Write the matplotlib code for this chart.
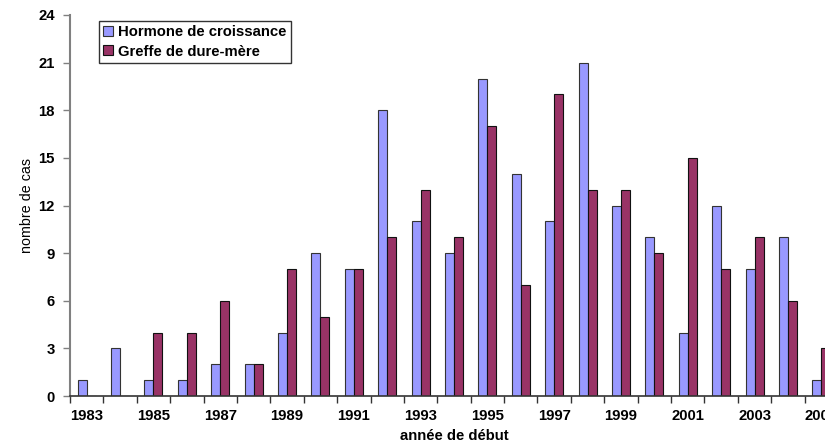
import matplotlib.pyplot as plt
import numpy as np

plt.rcParams['font.family'] = ['Liberation Sans', 'DejaVu Sans']

years = list(range(1983, 2006))
hormone = [1, 3, 1, 1, 2, 2, 4, 9, 8, 18, 11, 9, 20, 14, 11, 21, 12, 10, 4, 12, 8, 10, 1]
greffe = [0, 0, 4, 4, 6, 2, 8, 5, 8, 10, 13, 10, 17, 7, 19, 13, 13, 9, 15, 8, 10, 6, 3]

fig = plt.figure(figsize=(8.25, 4.42), dpi=100)
# axes runs past the right edge, like the original (cropped) chart
ax = fig.add_axes([70 / 825, 46 / 442, 768 / 825, 381 / 442])

x = np.arange(len(years))
w = 0.27
ax.bar(x - w / 2, hormone, w, color='#9999FF', edgecolor='#333333', linewidth=0.8,
       label='Hormone de croissance')
ax.bar(x + w / 2, greffe, w, color='#993366', edgecolor='#111111', linewidth=0.8,
       label='Greffe de dure-mère')

ax.set_xlim(-0.5, len(years) - 0.5)
ax.set_ylim(0, 24)
ax.set_yticks(range(0, 25, 3))

# labels on odd years, tick marks between categories
ax.set_xticks(x[::2])
ax.set_xticklabels([str(y) for y in years[::2]])
ax.set_xticks(np.arange(-0.5, len(years) + 0.5, 1), minor=True)
ax.tick_params(axis='x', which='major', length=0, pad=9)
ax.tick_params(axis='x', which='minor', length=5, width=1, color='#333333')
ax.tick_params(axis='y', length=5, width=1, color='#808080', pad=6)
for lab in ax.get_xticklabels() + ax.get_yticklabels():
    lab.set_fontsize(10.7)
    lab.set_fontweight('bold')

for s in ['top', 'right']:
    ax.spines[s].set_visible(False)
ax.spines['left'].set_color('#808080')
ax.spines['left'].set_linewidth(1.5)
ax.spines['bottom'].set_color('#333333')
ax.spines['bottom'].set_linewidth(1.2)

ax.set_ylabel('nombre de cas', fontsize=10.3, labelpad=3)
ax.set_xlabel('année de début', fontsize=10.7, fontweight='bold', labelpad=5)

leg = ax.legend(loc='upper left', bbox_to_anchor=(29 / 768, 375 / 381), frameon=True,
                fancybox=False, edgecolor='black', prop={'size': 10.7, 'weight': 'bold'},
                handlelength=0.65, handleheight=0.65, handletextpad=0.35,
                borderpad=0.3, labelspacing=0.35, borderaxespad=0)
leg.get_frame().set_linewidth(1)

fig.savefig('out.png', dpi=100)
